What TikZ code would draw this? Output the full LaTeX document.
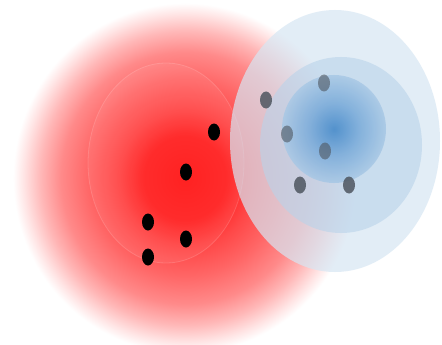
\documentclass[tikz,border=0pt]{standalone}
\usetikzlibrary{shapes.geometric}
\definecolor{bcore}{HTML}{3F86C8}
\definecolor{bmid}{HTML}{78AAD9}
\definecolor{bedge}{HTML}{A8C8E5}
\definecolor{bouter}{HTML}{D6E6F3}
\definecolor{bmiddle}{HTML}{B9D3EA}
\definecolor{graydot}{HTML}{4E5660}
\pgfdeclareradialshading{redblob}{\pgfpoint{0bp}{0bp}}{%
  color(0bp)=(red!92!white); color(6bp)=(red!88!white); color(10bp)=(red!72!white);
  color(14bp)=(red!60!white); color(18bp)=(red!46!white); color(21bp)=(red!28!white);
  color(23.5bp)=(red!10!white); color(25bp)=(white); color(50bp)=(white)}
\pgfdeclareradialshading{blueinner}{\pgfpoint{0bp}{0bp}}{%
  color(0bp)=(bcore); color(12bp)=(bmid); color(25bp)=(bedge); color(50bp)=(bedge)}
\tikzset{
  dot/.style={ellipse, fill=black, minimum width=12pt, minimum height=17pt, inner sep=0pt},
  bdot/.style={dot, fill=graydot, fill opacity=0.85},
  ring/.style={draw=white, draw opacity=0.15, line width=0.8pt}
}
\begin{document}
\begin{tikzpicture}[x=1pt,y=-1pt]
\useasboundingbox (0,0) rectangle (442,345);
\fill[white] (0,0) rectangle (442,345);
% red blob
\shade[shading=redblob] (185,178) ellipse [x radius=172, y radius=175];
\fill[white, opacity=0.06] (166,163) ellipse [x radius=78, y radius=100];
\draw[ring] (166,163) ellipse [x radius=78, y radius=100];
% blue circles
\fill[bouter, fill opacity=0.7] (335,141) ellipse [x radius=105, y radius=131];
\fill[bmiddle, fill opacity=0.6] (341,145) ellipse [x radius=81, y radius=88];
\shade[shading=blueinner, opacity=0.85] (334,129) ellipse [x radius=52, y radius=54];
% dots
\node[dot] (r1) at (214,132) {};
\node[dot] (r2) at (186,172) {};
\node[dot] (r3) at (148,222) {};
\node[dot] (r4) at (186,239) {};
\node[dot] (r5) at (148,257) {};
\node[bdot] (b1) at (266,100) {};
\node[bdot, fill opacity=0.6] (b2) at (324,83) {};
\node[bdot, fill opacity=0.6] (b3) at (287,134) {};
\node[bdot, fill opacity=0.6] (b4) at (325,151) {};
\node[bdot] (b5) at (300,185) {};
\node[bdot] (b6) at (349,185) {};
\end{tikzpicture}
\end{document}
